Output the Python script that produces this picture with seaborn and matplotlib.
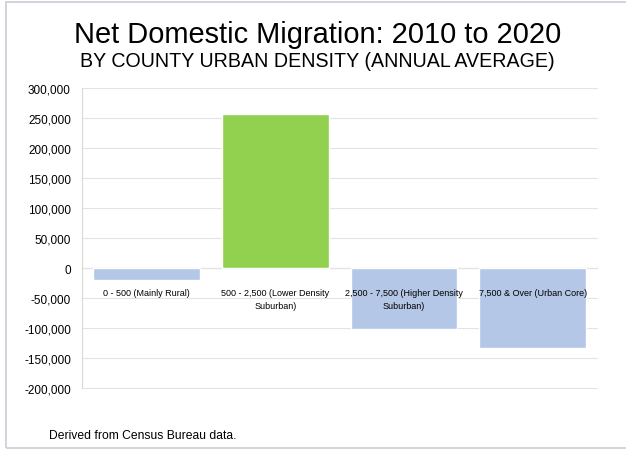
import matplotlib
matplotlib.use("Agg")
import matplotlib.pyplot as plt
import matplotlib.patches as patches
from matplotlib.ticker import FuncFormatter, FixedLocator
import seaborn as sns
import pandas as pd

categories = ["0 - 500 (Mainly Rural)",
              "500 - 2,500 (Lower Density\nSuburban)",
              "2,500 - 7,500 (Higher Density\nSuburban)",
              "7,500 & Over (Urban Core)"]
migration = [-20000, 257000, -102000, -133000]
bar_colors = ["#B4C7E7", "#92D050", "#B4C7E7", "#B4C7E7"]
y_ticks = list(range(-200000, 300001, 50000))


def main():
	sns.set_style("white")
	plt.rcParams['font.family'] = ['Liberation Sans', 'DejaVu Sans']
	plt.rcParams['text.color'] = 'black'

	df = pd.DataFrame({"cat": categories, "val": migration})

	fig = plt.figure(figsize=(6.26, 4.52), dpi=100)
	ax = fig.add_axes([0.131, 0.139, 0.823, 0.664])

	sns.barplot(data=df, x="cat", y="val", hue="cat", palette=bar_colors,
				legend=False, width=0.83, saturation=1, ax=ax)

	ax.set_ylim(y_ticks[0], y_ticks[-1])
	ax.set_yticks(y_ticks)
	ax.yaxis.set_major_formatter(FuncFormatter(lambda v, p: f"{int(v):,}"))
	ax.tick_params(axis="y", labelsize=8.5, length=4, color="#D9D9D9", width=0.8, pad=4,
				   labelcolor="black")
	ax.grid(axis="y", color="#E3E3E3", linewidth=0.8)
	for gl in ax.get_ygridlines():
		gl.set_clip_on(False)
	ax.set_axisbelow(True)

	for s in ["top", "right"]:
		ax.spines[s].set_visible(False)
	ax.spines["left"].set_color("#D9D9D9")
	ax.spines["bottom"].set_position(("data", 0))
	ax.spines["bottom"].set_color("#D9D9D9")
	ax.spines["bottom"].set_zorder(0.5)

	ax.set_xlim(-0.5, len(categories) - 0.5)
	ax.xaxis.set_major_locator(FixedLocator([i + 0.5 for i in range(len(categories) - 1)]))
	ax.set_xticklabels([])
	ax.tick_params(axis="x", length=3, color="#D9D9D9", direction="in")
	ax.set_xlabel("")
	ax.set_ylabel("")

	# category labels sit just under the zero line, like Excel does
	for i, lab in enumerate(categories):
		ax.annotate(lab, xy=(i, 0), xytext=(0, -14), textcoords="offset points",
					ha="center", va="top", fontsize=6.5, linespacing=1.7)

	fig.text(0.507, 0.905, "Net Domestic Migration: 2010 to 2020",
			 ha="center", va="baseline", fontsize=20.9)
	fig.text(0.507, 0.852, "BY COUNTY URBAN DENSITY (ANNUAL AVERAGE)",
			 ha="center", va="baseline", fontsize=14.1)
	fig.text(0.079, 0.035, "Derived from Census Bureau data.",
			 ha="left", va="center", fontsize=8.7)

	border = patches.Rectangle((6 / 626, 3 / 452), 1.2, 446 / 452,
							   transform=fig.transFigure, fill=False,
							   edgecolor="#C9CDD6", linewidth=1.2)
	fig.patches.append(border)

	fig.savefig("out.png", dpi=100)


if __name__ == "__main__":
	main()
